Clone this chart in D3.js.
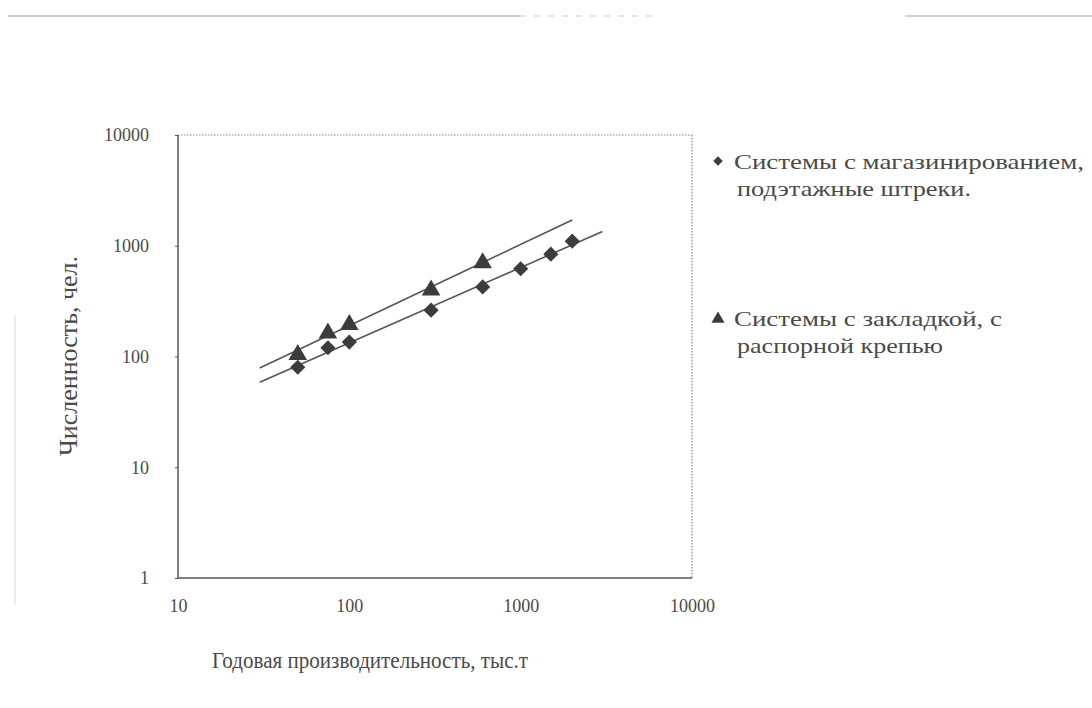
<!DOCTYPE html>
<html>
<head>
<meta charset="utf-8">
<script src="https://cdn.jsdelivr.net/npm/d3@7"></script>
<style>
  html, body { margin: 0; padding: 0; background: #fff; }
  svg { display: block; }
  text { font-family: "Liberation Serif", "DejaVu Serif", serif; fill: #4a4a4a; }
</style>
</head>
<body>
<svg id="chart" width="1092" height="708"></svg>
<script>
// ---- data ----
const xTicks = [10, 100, 1000, 10000];
const yTicks = [1, 10, 100, 1000, 10000];

// Series 1: Системы с магазинированием, подэтажные штреки (diamonds)
const s1X = [50, 75, 100, 300, 600, 1000, 1500, 2000];
const s1Y = [80, 120, 135, 262, 425, 620, 840, 1100];

// Series 2: Системы с закладкой, с распорной крепью (triangles)
const s2X = [50, 75, 100, 300, 600];
const s2Y = [106, 166, 198, 405, 715];

// trend line x-extents (power trendlines)
const s1TrendRange = [30, 3000];
const s2TrendRange = [30, 2000];

const legendLabels = [
  ["Системы с магазинированием,", "подэтажные штреки."],
  ["Системы с закладкой, с", "распорной крепью"]
];
const xTitle = "Годовая производительность, тыс.т";
const yTitle = "Численность, чел.";

// ---- drawing ----
const svg = d3.select("#chart");
const x = d3.scaleLog().domain([10, 10000]).range([178, 692]);
const y = d3.scaleLog().domain([1, 10000]).range([578, 135]);

// scan artefacts: faint page rule at top, faint vertical line at left
svg.append("line").attr("x1", 8).attr("x2", 520).attr("y1", 16).attr("y2", 16)
  .attr("stroke", "#9a9a9a").attr("stroke-width", 1.2);
svg.append("line").attr("x1", 520).attr("x2", 660).attr("y1", 16).attr("y2", 16)
  .attr("stroke", "#cfcfcf").attr("stroke-width", 1).attr("stroke-dasharray", "6,8");
svg.append("line").attr("x1", 905).attr("x2", 1092).attr("y1", 16).attr("y2", 16)
  .attr("stroke", "#a5a5a5").attr("stroke-width", 1.2);
svg.append("line").attr("x1", 15).attr("x2", 15).attr("y1", 315).attr("y2", 605)
  .attr("stroke", "#dcdcdc").attr("stroke-width", 1);

// plot frame: dotted top & right, solid left & bottom
svg.append("line").attr("x1", x(10)).attr("x2", x(10000)).attr("y1", y(10000)).attr("y2", y(10000))
  .attr("stroke", "#8a8a8a").attr("stroke-width", 1.2).attr("stroke-dasharray", "1.5,1.5");
svg.append("line").attr("x1", x(10000)).attr("x2", x(10000)).attr("y1", y(10000)).attr("y2", y(1))
  .attr("stroke", "#8a8a8a").attr("stroke-width", 1.2).attr("stroke-dasharray", "1.5,1.5");

// axes
const xAxis = d3.axisBottom(x).tickValues(xTicks).tickFormat(d3.format("d")).tickSize(0).tickPadding(26);
const yAxis = d3.axisLeft(y).tickValues(yTicks).tickFormat(d3.format("d")).tickSize(3).tickPadding(26);

const gx = svg.append("g").attr("transform", `translate(0,${y(1)})`).call(xAxis);
const gy = svg.append("g").attr("transform", `translate(${x(10)},0)`).call(yAxis);
[gx, gy].forEach(g => {
  g.attr("font-family", "Liberation Serif, serif").attr("font-size", 18);
  g.select(".domain").attr("stroke", "#555").attr("stroke-width", 1.5);
  g.selectAll(".tick line").attr("stroke", "#555");
  g.selectAll(".tick text").attr("fill", "#4a4a4a");
});
gx.select(".domain").attr("d", `M${x(10)},0H${x(10000)}`);
gy.select(".domain").attr("d", `M0,${y(1)}V${y(10000)}`);
gx.selectAll(".tick text").attr("dy", "0.45em");

// axis titles
svg.append("text").attr("x", 370).attr("y", 668).attr("text-anchor", "middle")
  .style("font-size", "24px").attr("textLength", 316).attr("lengthAdjust", "spacingAndGlyphs")
  .text(xTitle);
svg.append("text").attr("transform", "translate(77,356) rotate(-90)").attr("text-anchor", "middle")
  .style("font-size", "26px").text(yTitle);

// power trend lines fitted in log-log space
function powerFit(xs, ys) {
  const lx = xs.map(Math.log10), ly = ys.map(Math.log10);
  const mx = d3.mean(lx), my = d3.mean(ly);
  const b = d3.sum(lx.map((v, i) => (v - mx) * (ly[i] - my))) / d3.sum(lx.map(v => (v - mx) ** 2));
  const a = my - b * mx;
  return v => Math.pow(10, a + b * Math.log10(v));
}
const f1 = powerFit(s1X, s1Y), f2 = powerFit(s2X, s2Y);
const line = d3.line().x(d => x(d[0])).y(d => y(d[1]));
svg.append("path").attr("d", line(s1TrendRange.map(v => [v, f1(v)])))
  .attr("stroke", "#555").attr("stroke-width", 1.6).attr("fill", "none");
svg.append("path").attr("d", line(s2TrendRange.map(v => [v, f2(v)])))
  .attr("stroke", "#555").attr("stroke-width", 1.6).attr("fill", "none");

// markers
const diamond = d3.symbol().type(d3.symbolSquare).size(115);
const tri = d3.symbol().type(d3.symbolTriangle).size(150);
svg.append("g").selectAll("path").data(s2X.map((v, i) => [v, s2Y[i]])).join("path")
  .attr("d", tri).attr("transform", d => `translate(${x(d[0])},${y(d[1]) + 1})`)
  .attr("fill", "#3c3c3c");
svg.append("g").selectAll("path").data(s1X.map((v, i) => [v, s1Y[i]])).join("path")
  .attr("d", diamond).attr("transform", d => `translate(${x(d[0])},${y(d[1])}) rotate(45)`)
  .attr("fill", "#3c3c3c");

// legend
const leg = svg.append("g");
leg.append("path").attr("d", d3.symbol().type(d3.symbolSquare).size(45)())
  .attr("transform", "translate(718,161) rotate(45)").attr("fill", "#3c3c3c");
leg.append("path").attr("d", d3.symbol().type(d3.symbolTriangle).size(75)())
  .attr("transform", "translate(718,319)").attr("fill", "#3c3c3c");
const legY = [169, 326];
const legWidths = [[350, 234], [268, 206]];
legendLabels.forEach((lines, i) => {
  lines.forEach((t, j) => {
    leg.append("text").attr("x", j === 0 ? 734 : 737).attr("y", legY[i] + j * 27)
      .style("font-size", "21px")
      .attr("textLength", legWidths[i][j]).attr("lengthAdjust", "spacingAndGlyphs")
      .text(t);
  });
});
</script>
</body>
</html>
